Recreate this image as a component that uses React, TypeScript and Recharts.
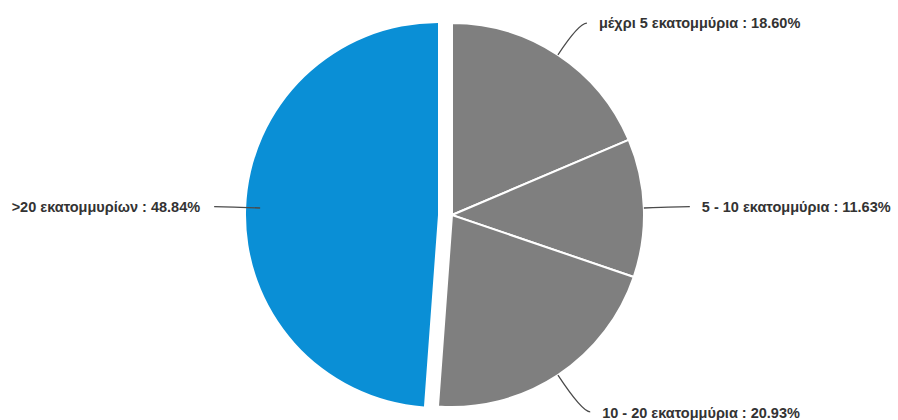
import { Cell, Pie, PieChart } from "recharts";

document.body.style.margin = "0";

// counts per revenue band (8 / 5 / 9 / 21 of 43 companies)
const categories = [
  "μέχρι 5 εκατομμύρια",
  "5 - 10 εκατομμύρια",
  "10 - 20 εκατομμύρια",
  ">20 εκατομμυρίων",
];
const counts = [8, 5, 9, 21];
const colors = ["#7f7f7f", "#7f7f7f", "#7f7f7f", "#0a8fd6"];

const data = categories.map((name, i) => ({ name, value: counts[i] }));

const RADIAN = Math.PI / 180;
const BLUE_INDEX = 3;

// eslint-disable-next-line @typescript-eslint/no-explicit-any
const renderLabel = (props: any) => {
  const { cx, cy, midAngle, outerRadius, percent, name } = props;
  const cos = Math.cos(-midAngle * RADIAN);
  const sin = Math.sin(-midAngle * RADIAN);
  const sx = cx + outerRadius * cos;
  const sy = cy + outerRadius * sin;
  // lower labels sit a bit further out
  const low = sin > 0.5;
  const reach = low ? 44 : 38;
  const mx = cx + (outerRadius + reach) * cos;
  const my = cy + (outerRadius + reach) * sin;
  const right = cos >= 0;
  const ex = mx + (right ? 8 : -8);
  const tx = ex + (right ? 12 : -14);
  return (
    <g>
      <path
        d={`M${sx},${sy} Q${mx},${my} ${ex},${my}`}
        stroke="#4a4a4a"
        strokeWidth={1.3}
        fill="none"
      />
      <text
        x={tx}
        y={my}
        dy={low ? 6 : 5}
        textAnchor={right ? "start" : "end"}
        fill="#333"
        fontSize={14.5}
        fontWeight="bold"
        fontFamily="'Liberation Sans', Arial, sans-serif"
      >
        {`${name} : ${(percent * 100).toFixed(2)}%`}
      </text>
    </g>
  );
};

export default function App() {
  return (
    <div style={{ width: 898, height: 420, background: "#fff" }}>
      <PieChart width={898} height={420}>
        {/* exploded slice, pulled out to the left */}
        <Pie
          data={data}
          dataKey="value"
          nameKey="name"
          cx={433}
          cy={210}
          outerRadius={192}
          startAngle={90}
          endAngle={-270}
          label={false}
          labelLine={false}
          isAnimationActive={false}
        >
          {data.map((d, i) => (
            <Cell
              key={d.name}
              fill={i === BLUE_INDEX ? colors[i] : "none"}
              stroke="none"
            />
          ))}
        </Pie>
        <Pie
          data={data}
          dataKey="value"
          nameKey="name"
          cx={447}
          cy={210}
          outerRadius={192}
          startAngle={90}
          endAngle={-270}
          label={renderLabel}
          labelLine={false}
          isAnimationActive={false}
        >
          {data.map((d, i) => (
            <Cell
              key={d.name}
              fill={i === BLUE_INDEX ? "none" : colors[i]}
              stroke={i === BLUE_INDEX ? "none" : "#fff"}
              strokeWidth={2}
            />
          ))}
        </Pie>
      </PieChart>
    </div>
  );
}
